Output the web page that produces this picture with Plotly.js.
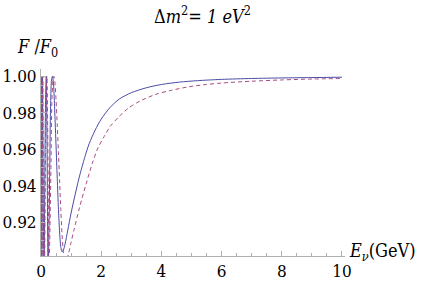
<!DOCTYPE html>
<html>
<head>
<meta charset="utf-8">
<script src="https://cdn.plot.ly/plotly-3.0.1.min.js"></script>
<style>
html,body{margin:0;padding:0;background:#fff;}
#chart{width:436px;height:284px;}
</style>
</head>
<body>
<div id="chart"></div>
<script>
// Solid curve (E in GeV, F/F0)
var solidE = [0.012,0.03,0.05,0.075,0.10,0.13,0.155,0.175,0.195,0.215,0.233,0.26,0.29,0.32,0.35,0.38,0.41,0.44,0.47,0.50,0.54,0.58,0.62,0.66,0.70,0.74,0.80,0.89,1.0,1.16,1.3,1.48,1.6,1.8,2.0,2.3,2.6,3.0,3.5,4.0,4.6,5.2,6.0,7.0,8.0,9.0,10.0];
var solidF = [1.0,0.89,1.0,0.93,0.89,0.95,0.99,1.0,0.975,0.93,0.895,0.91,0.95,0.985,0.998,1.0,0.997,0.988,0.975,0.962,0.944,0.927,0.914,0.906,0.9037,0.9045,0.908,0.9156,0.925,0.937,0.9465,0.957,0.963,0.9705,0.9765,0.983,0.9875,0.991,0.9937,0.9955,0.9968,0.9976,0.9983,0.9988,0.9991,0.9993,0.9995];
// Dashed curve
var dashE = [0.015,0.035,0.058,0.085,0.115,0.145,0.175,0.198,0.22,0.243,0.263,0.29,0.33,0.36,0.40,0.43,0.46,0.50,0.54,0.58,0.62,0.66,0.70,0.75,0.80,0.85,0.92,1.0,1.1,1.28,1.5,1.72,1.9,2.1,2.3,2.6,2.9,3.3,3.8,4.3,4.9,5.5,6.0,7.0,8.0,9.0,10.0];
var dashF = [1.0,0.89,1.0,0.93,0.89,0.95,0.99,1.0,0.975,0.93,0.895,0.91,0.95,0.985,0.998,1.0,0.997,0.987,0.973,0.958,0.942,0.926,0.913,0.903,0.899,0.8995,0.903,0.909,0.916,0.928,0.941,0.953,0.961,0.967,0.9725,0.978,0.9825,0.9865,0.99,0.9922,0.9942,0.9955,0.9963,0.9973,0.998,0.9985,0.9988];
var xTicks = [0,2,4,6,8,10];
var yTicks = [0.92,0.94,0.96,0.98,1.00];
var yTickText = ["0.92","0.94","0.96","0.98","1.00"];

var serif = "DejaVu Serif Condensed, DejaVu Serif";
var traces = [
  {x: solidE, y: solidF, mode: "lines", line: {color: "#4b4ba6", width: 1, shape: "spline", smoothing: 0.8}, hoverinfo: "skip"},
  {x: dashE, y: dashF, mode: "lines", line: {color: "#a94c82", width: 1, dash: "4px,3px", shape: "spline", smoothing: 0.8}, hoverinfo: "skip"}
];
var axisCommon = {
  showgrid: false, zeroline: false, showline: true, linecolor: "#b0b0b0", linewidth: 1,
  ticks: "inside", ticklen: 5, tickcolor: "#b0b0b0", tickwidth: 1,
  tickfont: {family: serif, size: 17, color: "#000"}
};
var layout = {
  width: 436, height: 284,
  margin: {l: 41, r: 91, t: 69, b: 28},
  paper_bgcolor: "#fff", plot_bgcolor: "#fff",
  font: {family: serif, size: 17, color: "#000"},
  showlegend: false,
  xaxis: Object.assign({}, axisCommon, {
    range: [0, 10.1], tickmode: "array", tickvals: xTicks, ticktext: xTicks.map(String),
    minor: {ticks: "inside", dtick: 0.5, tick0: 0, ticklen: 3, tickcolor: "#b0b0b0"}
  }),
  yaxis: Object.assign({}, axisCommon, {
    range: [0.9014, 1.004], tickmode: "array", tickvals: yTicks, ticktext: yTickText,
    minor: {ticks: "inside", dtick: 0.005, tick0: 0.9, ticklen: 3, tickcolor: "#b0b0b0"}
  }),
  annotations: [
    {text: "Δ<i>m</i><sup>2</sup>= <i>1 eV</i><sup>2</sup>", xref: "paper", yref: "paper", x: 0.53, y: 1.0, yshift: 54, xanchor: "center", yanchor: "middle", showarrow: false, font: {family: serif, size: 18, color: "#000"}},
    {text: "<i>F</i> /<i>F</i><sub>0</sub>", xref: "paper", yref: "paper", x: 0, xshift: -4, y: 1.0, yshift: 21, xanchor: "center", yanchor: "middle", showarrow: false, font: {family: serif, size: 18, color: "#000"}},
    {text: "<i>E</i><sub><i>ν</i></sub>(GeV)", xref: "paper", yref: "paper", x: 1.0, xshift: 2, y: 0, yshift: 4, xanchor: "left", yanchor: "middle", showarrow: false, font: {family: serif, size: 18, color: "#000"}}
  ]
};
Plotly.newPlot("chart", traces, layout, {staticPlot: true, displayModeBar: false});
</script>
</body>
</html>
